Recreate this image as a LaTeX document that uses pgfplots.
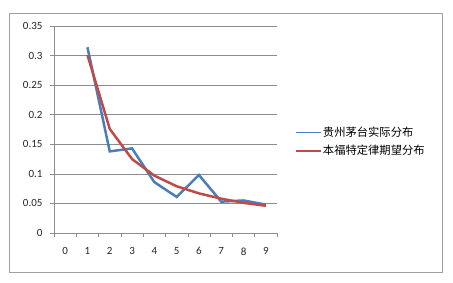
\documentclass[border=0pt]{standalone}
\usepackage{fontspec}
\setmainfont{Carlito}
\newfontfamily\cjk{Noto Sans CJK SC}
\usepackage{pgfplots}
\pgfplotsset{compat=1.18}
\definecolor{seriesblue}{HTML}{4A7EBB}
\definecolor{seriesred}{HTML}{BE4B48}
\definecolor{gridgray}{HTML}{8C8C8C}
\definecolor{framegray}{HTML}{A0A0A0}
\begin{document}
\begin{tikzpicture}[x=1pt,y=1pt]
\path (0,0) rectangle (453,283);
\draw[framegray, line width=0.8pt] (9,11) rectangle (442,270);
\begin{axis}[
  at={(54pt,50pt)}, anchor=south west,
  scale only axis, width=223pt, height=207pt,
  xmin=-0.5, xmax=9.5, ymin=0, ymax=0.35,
  axis x line*=bottom, axis y line*=left,
  axis line style={gridgray, line width=0.6pt, -},
  tick style={gridgray, line width=0.6pt},
  tick align=outside, major tick length=4pt,
  xtick={-0.5,0.5,...,9.5}, xticklabels={},
  extra x ticks={0,1,2,3,4,5,6,7,8,9},
  extra x tick labels={0,1,2,3,4,5,6,7,8,9},
  extra x tick style={major tick length=0pt, xticklabel style={yshift=-11pt}},
  ytick={0,0.05,0.1,0.15,0.2,0.25,0.3,0.35},
  yticklabels={0,0.05,0.1,0.15,0.2,0.25,0.3,0.35},
  yticklabel style={xshift=-4pt},
  ymajorgrids, grid style={gridgray, line width=0.6pt},
  ticklabel style={font=\fontsize{11}{13}\selectfont, text=black!85},
  /pgf/number format/assume math mode=true,
  legend style={at={(1.081,0.44)}, anchor=west, draw=none, fill=none,
    inner sep=0pt, row sep=4pt,
    font=\cjk\fontsize{11.3}{13}\selectfont,
    nodes={inner sep=1.5pt}},
  legend cell align=left,
  legend image code/.code={\draw[#1, line width=1.2pt] (0pt,0pt) -- (25pt,0pt);},
]
\addplot[seriesblue, line width=2.5pt] coordinates {
  (1,0.314) (2,0.138) (3,0.143) (4,0.086) (5,0.061)
  (6,0.098) (7,0.053) (8,0.055) (9,0.048)};
\addlegendentry{贵州茅台实际分布}
\addplot[seriesred, line width=2.5pt] coordinates {
  (1,0.301) (2,0.176) (3,0.125) (4,0.097) (5,0.079)
  (6,0.067) (7,0.058) (8,0.051) (9,0.046)};
\addlegendentry{本福特定律期望分布}
\end{axis}
\end{tikzpicture}
\end{document}
